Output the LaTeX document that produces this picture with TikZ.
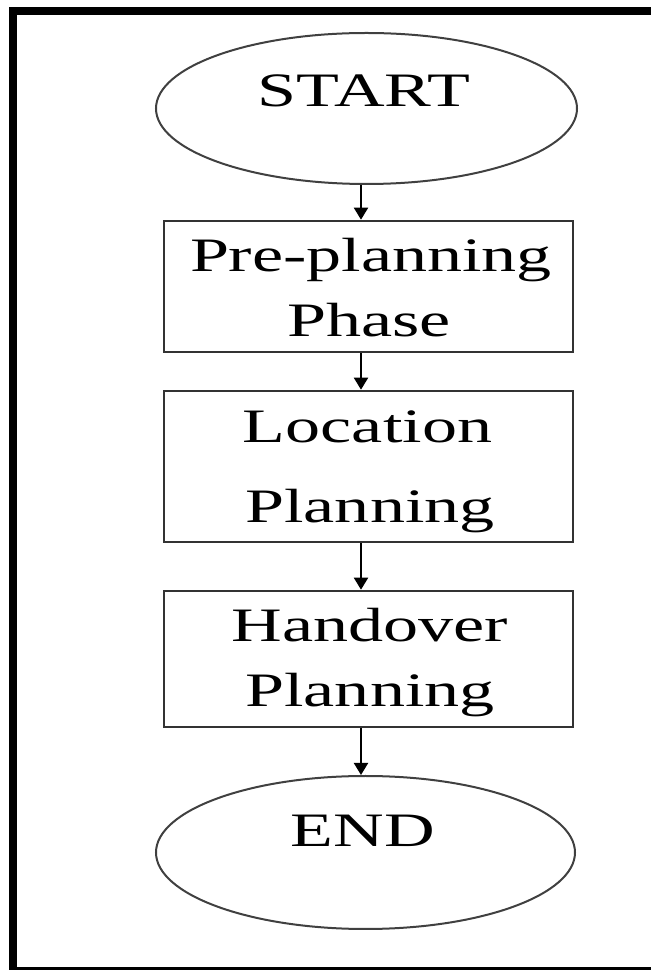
\documentclass[tikz,border=0pt]{standalone}
\usepackage{fontspec}
\setmainfont{Liberation Serif}[FakeStretch=1.46]
\usetikzlibrary{arrows.meta,shapes.geometric}
\begin{document}
\begin{tikzpicture}[x=1pt,y=1pt,
  term/.style={ellipse,draw=black!75,line width=2pt,inner sep=0pt},
  stepbox/.style={rectangle,draw=black!80,line width=2.6pt,inner sep=0pt,minimum width=409pt},
  txt/.style={anchor=base,inner sep=0pt,font=\fontsize{48}{58}\selectfont},
  arr/.style={line width=2pt,-{Triangle[width=14pt,length=12pt]}}]
\useasboundingbox (0,0) rectangle (651,970);
% frame
\fill[black] (9,955) rectangle (651,963);
\fill[black] (9,0) rectangle (17,963);
\fill[black] (9,0) rectangle (651,3);
% terminals
\node[term,minimum width=421pt,minimum height=151pt] (start) at (366.5,861.5) {};
\node[txt] (starttxt) at (364,863) {START};
\node[term,minimum width=419pt,minimum height=153pt] (end) at (365.5,117.5) {};
\node[txt] (endtxt) at (363,123) {END};
% boxes
\node[stepbox,minimum height=131pt] (b1) at (368.5,683.5) {};
\node[txt] (b1a) at (371,698) {Pre-planning};
\node[txt] (b1b) at (369,633) {Phase};
\node[stepbox,minimum height=151pt] (b2) at (368.5,503.5) {};
\node[txt] (b2a) at (367.5,527) {Location};
\node[txt] (b2b) at (370,447) {Planning};
\node[stepbox,minimum height=136pt] (b3) at (368.5,311) {};
\node[txt] (b3a) at (370,328) {Handover};
\node[txt] (b3b) at (370,263) {Planning};
% connectors
\draw[arr] ([xshift=-5.5pt]start.south) -- ([xshift=-7.5pt]b1.north);
\draw[arr] ([xshift=-7.5pt]b1.south) -- ([xshift=-7.5pt]b2.north);
\draw[arr] ([xshift=-7.5pt]b2.south) -- ([xshift=-7.5pt]b3.north);
\draw[arr] ([xshift=-7.5pt]b3.south) -- ([xshift=-4.5pt]end.north);
\end{tikzpicture}
\end{document}
